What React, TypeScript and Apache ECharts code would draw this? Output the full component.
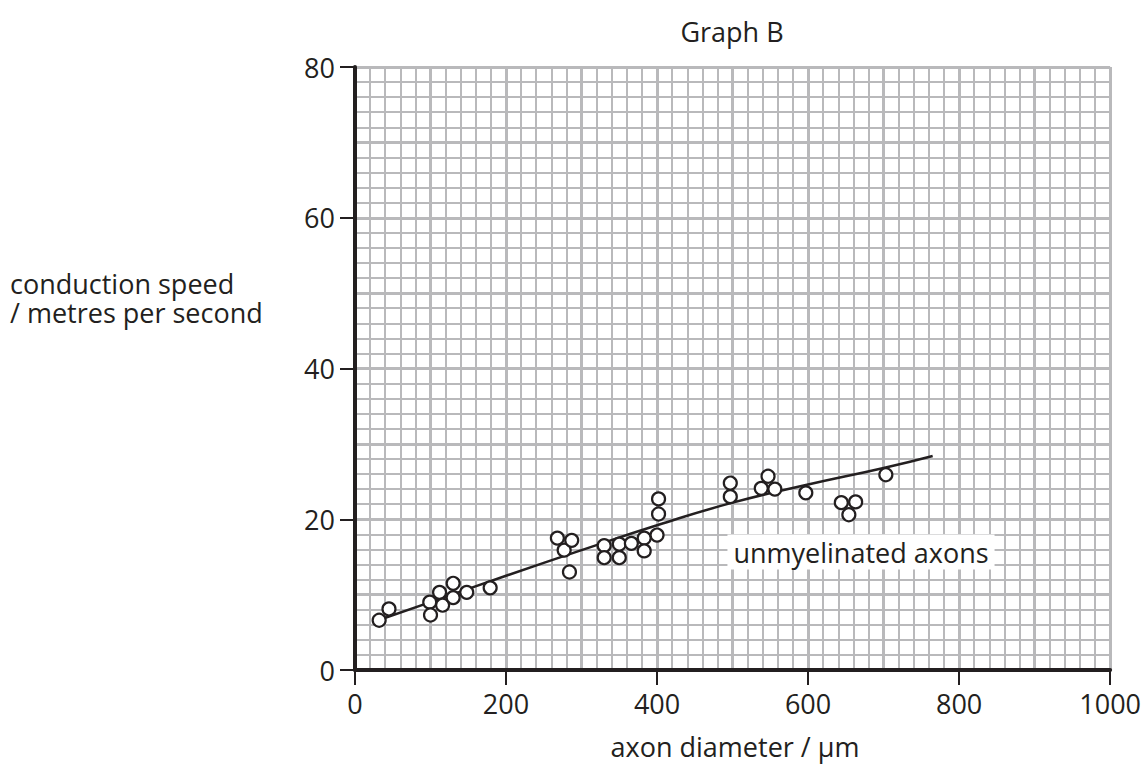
import React, { useEffect, useRef } from "react";
import * as echarts from "echarts";

const xPoints = [32, 45, 99, 100, 112, 116, 130, 130, 148, 179, 268, 277, 287, 284, 330, 330, 350, 350, 366, 383, 383, 400, 402, 402, 497, 497, 538, 547, 556, 597, 644, 654, 663, 703];
const yPoints = [6.6, 8.1, 9.0, 7.3, 10.3, 8.6, 11.5, 9.6, 10.3, 10.9, 17.5, 15.9, 17.2, 13.0, 16.5, 14.9, 16.7, 14.9, 16.8, 17.5, 15.8, 17.9, 22.7, 20.7, 24.8, 23.0, 24.1, 25.7, 24.0, 23.5, 22.2, 20.6, 22.3, 25.9];
const trendX = [25, 100, 200, 300, 400, 500, 600, 700, 765];
const trendY = [6.4, 9.0, 12.5, 15.9, 19.2, 22.2, 24.6, 26.8, 28.4];

const title = "Graph B";
const xName = "axon diameter / μm";
const yNameLines = ["conduction speed", "/ metres per second"];
const annotation = "unmyelinated axons";

const FONT = "'Open Sans', 'Noto Sans', sans-serif";
const FS = 27;
const TXT = "#231f20";
const GRID_C = "#b9b9bb";

export default function App() {
  const ref = useRef<HTMLDivElement>(null);
  useEffect(() => {
    if (!ref.current) return;
    document.body.style.margin = "0";
    const chart = echarts.init(ref.current, null, { renderer: "svg" });
    const scatterData = xPoints.map((x, i) => [x, yPoints[i]]);
    const trendData = trendX.map((x, i) => [x, trendY[i]]);
    const labelStyle = { fontSize: FS, color: TXT, fontFamily: FONT, formatter: (v: number) => String(v) };
    const txt = (text: string, x: number, y: number, align: string, extra: any = {}) => ({
      type: "text", x, y, z: 10,
      style: { text, fontSize: FS, fill: TXT, fontFamily: FONT, align, verticalAlign: "middle", ...extra },
    });
    chart.setOption({
      animation: false,
      grid: { left: 355, right: 28, top: 67, bottom: 102, containLabel: false },
      xAxis: [
        {
          type: "value", min: 0, max: 1000, interval: 100,
          axisLine: { show: false }, axisTick: { show: false }, axisLabel: { show: false },
          splitLine: { show: true, lineStyle: { color: GRID_C, width: 3 } },
          minorTick: { show: false, splitNumber: 5 },
          minorSplitLine: { show: true, lineStyle: { color: GRID_C, width: 2 } },
        },
        {
          type: "value", min: 0, max: 1000, interval: 200, position: "bottom",
          axisLine: { show: true, onZero: false, lineStyle: { color: TXT, width: 4 } },
          axisTick: { show: true, length: 15, lineStyle: { color: TXT, width: 2 } },
          axisLabel: { ...labelStyle, margin: 20 },
          splitLine: { show: false },
        },
      ],
      yAxis: [
        {
          type: "value", min: 0, max: 80, interval: 10,
          axisLine: { show: false }, axisTick: { show: false }, axisLabel: { show: false },
          splitLine: { show: true, lineStyle: { color: GRID_C, width: 3 } },
          minorTick: { show: false, splitNumber: 5 },
          minorSplitLine: { show: true, lineStyle: { color: GRID_C, width: 2 } },
        },
        {
          type: "value", min: 0, max: 80, interval: 20, position: "left",
          axisLine: { show: true, onZero: false, lineStyle: { color: TXT, width: 4 } },
          axisTick: { show: true, length: 15, lineStyle: { color: TXT, width: 2 } },
          axisLabel: { ...labelStyle, margin: 20 },
          splitLine: { show: false },
        },
      ],
      series: [
        {
          type: "line", xAxisIndex: 1, yAxisIndex: 1, data: trendData, smooth: true,
          symbol: "none", lineStyle: { color: TXT, width: 2.5 }, z: 3,
        },
        {
          type: "scatter", xAxisIndex: 1, yAxisIndex: 1, data: scatterData,
          symbol: "circle", symbolSize: 13,
          itemStyle: { color: "#ffffff", borderColor: TXT, borderWidth: 2.2, opacity: 1 },
          z: 4,
        },
      ],
      graphic: [
        txt(title, 732, 31, "center"),
        txt(xName, 735, 746, "center"),
        txt(`${yNameLines[0]}\n${yNameLines[1]}`, 10, 298, "left", { lineHeight: 29 }),
        txt(annotation, 861, 552, "center", { backgroundColor: "#ffffff", padding: [4, 6] }),
      ],
    });
    return () => chart.dispose();
  }, []);
  return <div ref={ref} style={{ width: 1144, height: 772 }} />;
}
